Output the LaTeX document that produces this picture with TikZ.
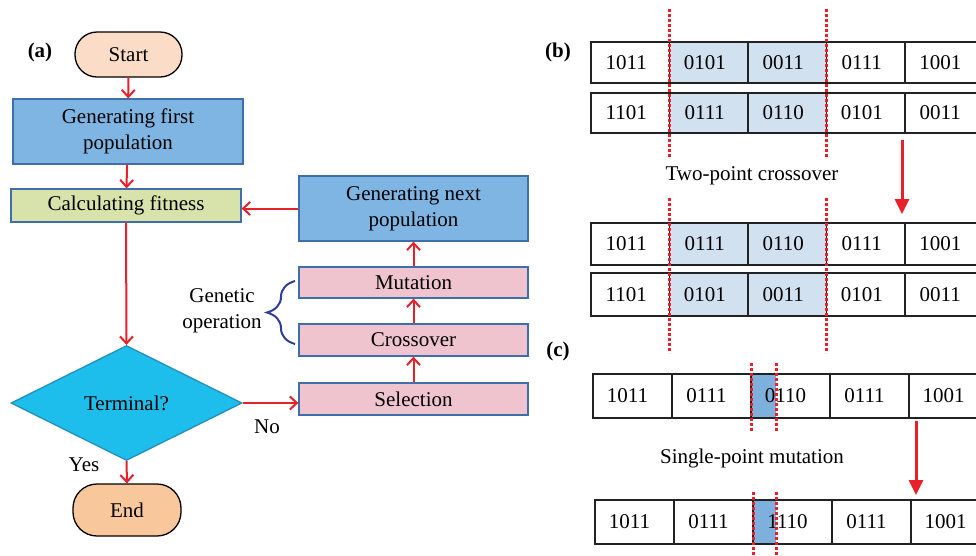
\documentclass[tikz,border=0pt]{standalone}
\usepackage{fontspec}
\setmainfont{Liberation Serif}
\usetikzlibrary{shapes.geometric,arrows.meta,decorations.pathreplacing}
\definecolor{myred}{HTML}{E8202A}
\definecolor{startfill}{HTML}{FBDCC6}
\definecolor{endfill}{HTML}{F8C79C}
\definecolor{bluefill}{HTML}{7FB5E3}
\definecolor{blueborder}{HTML}{3E6FA8}
\definecolor{greenfill}{HTML}{D7E3AA}
\definecolor{pinkfill}{HTML}{F0C4CE}
\definecolor{cyanfill}{HTML}{1EBEEC}
\definecolor{cyanborder}{HTML}{2290BA}
\definecolor{shade}{HTML}{D2E1F0}
\definecolor{hilite}{HTML}{7DB0DC}
\definecolor{bracecol}{HTML}{2E3D98}
\definecolor{cellline}{HTML}{222222}
\begin{document}
\begin{tikzpicture}[x=1pt,y=-1pt,
  font=\fontsize{21}{26}\selectfont,
  flow/.style={draw=blueborder, line width=1.3pt, inner sep=0pt, align=center},
  term/.style={draw=black, line width=1.3pt, inner sep=0pt, rounded corners=22pt},
  redarrow/.style={draw=myred, line width=2pt, -{Straight Barb[length=7pt,width=13pt,line width=2pt]}},
  bigarrow/.style={draw=myred, line width=3pt, -{Triangle[length=15pt,width=14pt]}},
  dotline/.style={draw=myred, line width=3pt, dash pattern=on 2.6pt off 2.4pt},
  cellbox/.style={draw=cellline, line width=1.6pt, inner sep=0pt},
  celltext/.style={inner sep=0pt},
  lbl/.style={inner sep=0pt, font=\fontsize{21}{26}\selectfont\bfseries}]
\clip (0,0) rectangle (976,555);
\fill[white] (0,0) rectangle (976,555);

% ---------- (a) flowchart ----------
\node[lbl] (la) at (40,52) {(a)};
\node[term, fill=startfill, minimum width=107pt, minimum height=45pt] (start) at (128.5,54.5) {Start};
\node[flow, fill=bluefill, minimum width=230pt, minimum height=65pt] (gen) at (128,131.5) {Generating first\\population};
\node[flow, fill=greenfill, minimum width=230pt, minimum height=33pt] (calc) at (126,205.5) {Calculating fitness};
\node[diamond, draw=cyanborder, fill=cyanfill, line width=1.3pt, inner sep=0pt, minimum width=231pt, minimum height=115pt] (termq) at (126.5,403) {Terminal?};
\node[term, fill=endfill, minimum width=108pt, minimum height=52pt, rounded corners=24pt] (end) at (127,510) {End};

\node[flow, fill=bluefill, minimum width=229pt, minimum height=65pt] (next) at (413.5,208.5) {Generating next\\population};
\node[flow, fill=pinkfill, minimum width=229pt, minimum height=31pt] (mut) at (413.5,282.5) {Mutation};
\node[flow, fill=pinkfill, minimum width=229pt, minimum height=32pt] (cross) at (413.5,340) {Crossover};
\node[flow, fill=pinkfill, minimum width=229pt, minimum height=32pt] (sel) at (413.5,399) {Selection};

\draw[redarrow] (start) -- (gen);
\draw[redarrow] (gen) -- (calc);
\draw[redarrow] (calc.south) -- (termq.north);
\draw[redarrow] (termq.east) -- (termq.east -| sel.west);
\draw[redarrow] (termq.south) -- (end.north);
\draw[redarrow] (sel) -- (cross);
\draw[redarrow] (cross) -- (mut);
\draw[redarrow] (mut) -- (next);
\draw[redarrow] (next.west) -- (next.west -| calc.east);

\node[inner sep=0pt] (no) at (267,427) {No};
\node[inner sep=0pt] (yes) at (84,465) {Yes};

\coordinate (bb) at (295,344);
\coordinate (bt) at (295,281);
\draw[bracecol, line width=2pt, decorate, decoration={brace, amplitude=28pt}] (bb) -- (bt);
\node[inner sep=0pt, align=center] (genop) at (222,311) {Genetic\\operation};

% ---------- (b) two-point crossover ----------
\node[lbl] (lb) at (558,52) {(b)};
\foreach \i/\t/\f in {1/1011/white,2/0101/shade,3/0011/shade,4/0111/white,5/1001/white} {
  \node[cellbox, fill=\f, minimum width=78.5pt, minimum height=41pt] (ra\i) at ({591+78.5*(\i-0.5)},62.5) {};
  \node[celltext] (ta\i) at ([xshift=-4pt]ra\i.center) {\t};
}
\foreach \i/\t/\f in {1/1101/white,2/0111/shade,3/0110/shade,4/0101/white,5/0011/white} {
  \node[cellbox, fill=\f, minimum width=78.5pt, minimum height=40pt] (rb\i) at ({591+78.5*(\i-0.5)},113) {};
  \node[celltext] (tb\i) at ([xshift=-4pt]rb\i.center) {\t};
}
\foreach \i/\t/\f in {1/1011/white,2/0111/shade,3/0110/shade,4/0111/white,5/1001/white} {
  \node[cellbox, fill=\f, minimum width=78.5pt, minimum height=42pt] (rc\i) at ({591+78.5*(\i-0.5)},244) {};
  \node[celltext] (tc\i) at ([xshift=-4pt]rc\i.center) {\t};
}
\foreach \i/\t/\f in {1/1101/white,2/0101/shade,3/0011/shade,4/0101/white,5/0011/white} {
  \node[cellbox, fill=\f, minimum width=78.5pt, minimum height=43pt] (rd\i) at ({591+78.5*(\i-0.5)},294.5) {};
  \node[celltext] (td\i) at ([xshift=-4pt]rd\i.center) {\t};
}
\draw[dotline] (669,9) -- (669,157);
\draw[dotline] (826,9) -- (826,157);
\draw[dotline] (669,198) -- (669,353);
\draw[dotline] (826,198) -- (826,353);
\node[inner sep=0pt] (tpc) at (752,176) {Two-point crossover};
\coordinate (ba1) at (902,140);
\coordinate (ba2) at (902,214);
\draw[bigarrow] (ba1) -- (ba2);

% ---------- (c) single-point mutation ----------
\node[lbl] (lc) at (558,351) {(c)};
\fill[hilite] (751,374) rectangle (776,418);
\fill[hilite] (753,500) rectangle (776,544);
\foreach \i/\t in {1/1011,2/0111,3/0110,4/0111,5/1001} {
  \node[cellbox, minimum width=79pt, minimum height=44pt] (re\i) at ({593+79*(\i-0.5)},396) {};
  \node[celltext] (te\i) at ([xshift=-5pt]re\i.center) {\t};
}
\foreach \i/\t in {1/1011,2/0111,3/1110,4/0111,5/1001} {
  \node[cellbox, minimum width=79pt, minimum height=44pt] (rf\i) at ({595+79*(\i-0.5)},522) {};
  \node[celltext] (tf\i) at ([xshift=-5pt]rf\i.center) {\t};
}
\draw[dotline] (751,363) -- (751,432);
\draw[dotline] (776,363) -- (776,432);
\draw[dotline] (753,492) -- (753,556);
\draw[dotline] (776,492) -- (776,556);
\node[inner sep=0pt] (spm) at (752,458) {Single-point mutation};
\coordinate (ca1) at (916,421);
\coordinate (ca2) at (916,495);
\draw[bigarrow] (ca1) -- (ca2);
\end{tikzpicture}
\end{document}
